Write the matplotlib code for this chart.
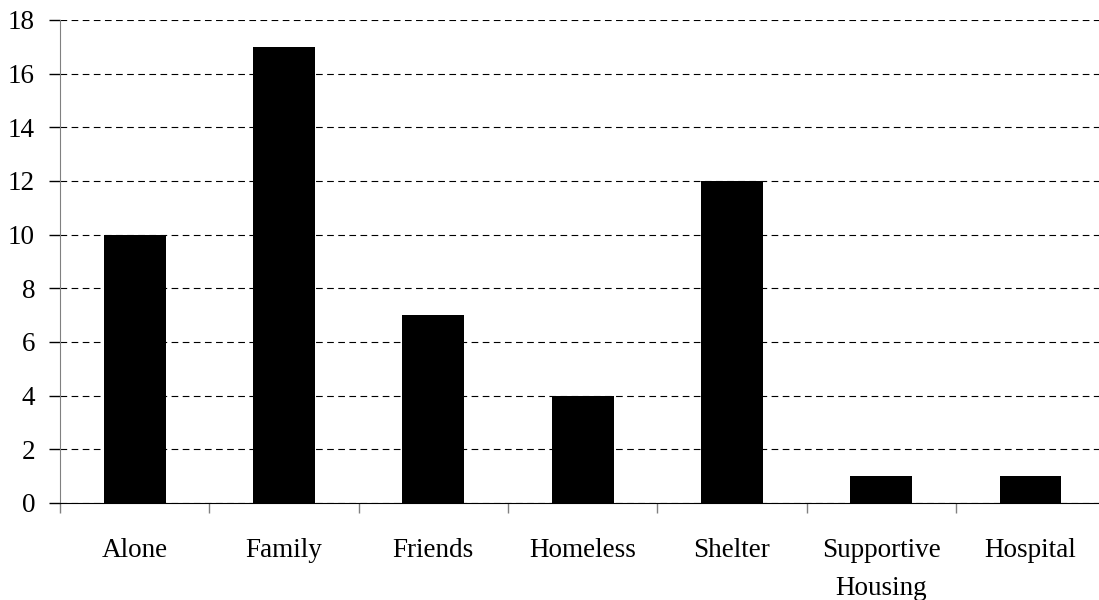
import matplotlib.pyplot as plt
import numpy as np

categories = ["Alone", "Family", "Friends", "Homeless", "Shelter", "Supportive\nHousing", "Hospital"]
counts = [10, 17, 7, 4, 12, 1, 1]
y_ticks = [0, 2, 4, 6, 8, 10, 12, 14, 16, 18]

plt.rcParams['font.family'] = ['Liberation Serif', 'DejaVu Serif']

fig = plt.figure(figsize=(10.99, 6), dpi=100)
# axes run a little past the right edge, as in the original
ax = fig.add_axes([0.0546, 0.1617, 0.951, 0.805])

x = np.arange(len(categories))
ax.bar(x, counts, width=0.415, color='black', zorder=3)

ax.set_xlim(-0.5, len(categories) - 0.5)
ax.set_ylim(0, 18)
ax.set_yticks(y_ticks)
ax.set_yticklabels([str(v) for v in y_ticks], fontsize=19.5)

# boundary ticks (no labels) and centred labels
ax.set_xticks(np.arange(len(categories) + 1) - 0.5)
ax.set_xticklabels([])
ax.set_xticks(x, minor=True)
ax.set_xticklabels(categories, minor=True, fontsize=19.5, linespacing=1.7)
ax.tick_params(axis='x', which='major', direction='out', length=7, color='#808080', width=1)
ax.tick_params(axis='x', which='minor', length=0, pad=25)
ax.tick_params(axis='y', direction='out', length=8, color='black', width=1, pad=10)

ax.yaxis.grid(True, color='black', linestyle=(0, (6, 4)), linewidth=0.8, zorder=0)
ax.set_axisbelow(True)

for s in ['top', 'right']:
    ax.spines[s].set_visible(False)
ax.spines['left'].set_color('#808080')
ax.spines['bottom'].set_color('black')

fig.savefig('out.png', dpi=100)
